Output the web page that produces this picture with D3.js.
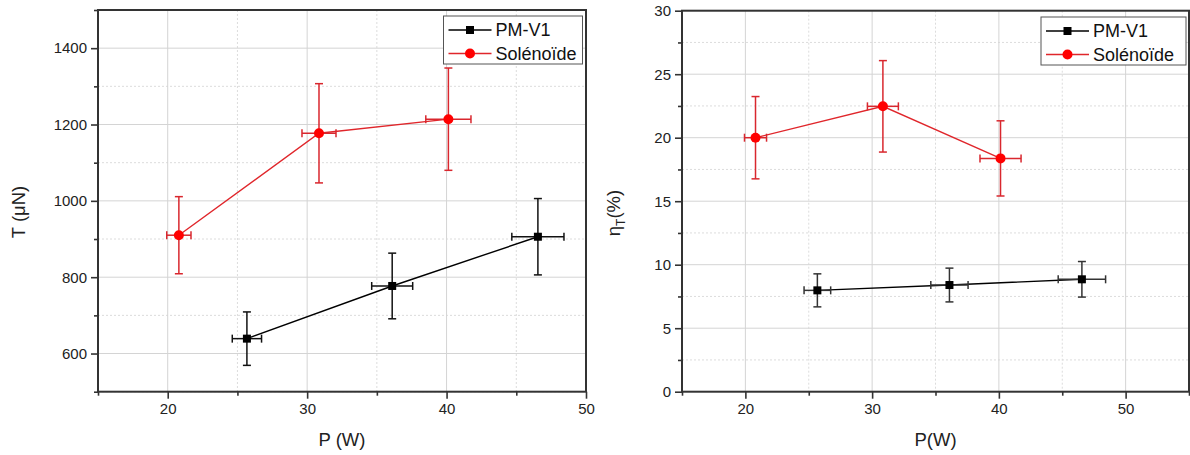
<!DOCTYPE html>
<html><head><meta charset="utf-8">
<script src="https://cdn.jsdelivr.net/npm/d3@7"></script>
<style>
body{margin:0;background:#fff;}
svg{display:block;font-family:"Liberation Sans",Arial,sans-serif;}
</style></head>
<body><svg id="c" width="1190" height="455"></svg>
<script>
// ---- data ----
const seriesNames = ["PM-V1", "Solénoïde"];
const pmP = [25.68, 36.1, 46.55];
const pmPErr = [1.05, 1.47, 1.87];
const pmT = [639, 777, 906];
const pmTErr = [70, 86, 100];
const pmEta = [7.98, 8.40, 8.85];
const pmEtaErr = [1.3, 1.33, 1.4];

const solP = [20.8, 30.85, 40.13];
const solPErr = [0.87, 1.22, 1.62];
const solT = [910, 1177, 1214];
const solTErr = [101, 130, 134];
const solEta = [20.0, 22.47, 18.37];
const solEtaErr = [3.24, 3.6, 2.96];

const leftXTicks = [20, 30, 40, 50];
const leftXMinor = [15, 25, 35, 45];
const leftYTicks = [600, 800, 1000, 1200, 1400];
const leftYMinor = [500, 700, 900, 1100, 1300, 1500];
const rightXTicks = [20, 30, 40, 50];
const rightXMinor = [15, 25, 35, 45, 55];
const rightYTicks = [0, 5, 10, 15, 20, 25, 30];
const rightYMinor = [2.5, 7.5, 12.5, 17.5, 22.5, 27.5];

const svg = d3.select("#c");
const BLACK = "#000", RED = "#ff0000", REDLINE = "#e0262b", AXIS = "#333";

function panel(cfg) {
  const g = svg.append("g");
  const x = d3.scaleLinear().domain(cfg.xDomain).range([cfg.left, cfg.right]);
  const y = d3.scaleLinear().domain(cfg.yDomain).range([cfg.bottom, cfg.top]);

  // grid minor (dotted)
  g.selectAll(".gxm").data(cfg.xMinor).join("line")
    .attr("x1", d => x(d)).attr("x2", d => x(d)).attr("y1", cfg.top).attr("y2", cfg.bottom)
    .attr("stroke", "#dcdcdc").attr("stroke-width", 1).attr("stroke-dasharray", "2,2");
  g.selectAll(".gym").data(cfg.yMinor).join("line")
    .attr("y1", d => y(d)).attr("y2", d => y(d)).attr("x1", cfg.left).attr("x2", cfg.right)
    .attr("stroke", "#dcdcdc").attr("stroke-width", 1).attr("stroke-dasharray", "2,2");
  // grid major
  g.selectAll(".gx").data(cfg.xTicks).join("line")
    .attr("x1", d => x(d)).attr("x2", d => x(d)).attr("y1", cfg.top).attr("y2", cfg.bottom)
    .attr("stroke", "#d4d4d4").attr("stroke-width", 1);
  g.selectAll(".gy").data(cfg.yTicks).join("line")
    .attr("y1", d => y(d)).attr("y2", d => y(d)).attr("x1", cfg.left).attr("x2", cfg.right)
    .attr("stroke", "#d4d4d4").attr("stroke-width", 1);

  // axes
  const xa = g.append("g").attr("transform", `translate(0,${cfg.bottom})`)
    .call(d3.axisBottom(x).tickValues(cfg.xTicks).tickSize(7).tickPadding(5).tickFormat(d3.format("d")));
  const xam = g.append("g").attr("transform", `translate(0,${cfg.bottom})`)
    .call(d3.axisBottom(x).tickValues(cfg.xMinor).tickSize(4).tickFormat(""));
  const ya = g.append("g").attr("transform", `translate(${cfg.left},0)`)
    .call(d3.axisLeft(y).tickValues(cfg.yTicks).tickSize(7).tickPadding(4).tickFormat(d3.format("d")));
  const yam = g.append("g").attr("transform", `translate(${cfg.left},0)`)
    .call(d3.axisLeft(y).tickValues(cfg.yMinor).tickSize(4).tickFormat(""));
  [xa, xam, ya, yam].forEach(a => {
    a.select(".domain").remove();
    a.selectAll("line").attr("stroke", AXIS).attr("stroke-width", 1.6);
    a.selectAll("text").attr("fill", "#222").attr("font-size", 15)
      .attr("font-family", "'Liberation Sans',Arial,sans-serif");
  });
  // frame
  g.append("rect").attr("x", cfg.left).attr("y", cfg.top)
    .attr("width", cfg.right - cfg.left).attr("height", cfg.bottom - cfg.top)
    .attr("fill", "none").attr("stroke", AXIS).attr("stroke-width", 2);

  // series
  const series = [
    {name: seriesNames[0], px: pmP, pe: pmPErr, v: cfg.pmV, ve: cfg.pmVErr, color: BLACK, line: BLACK, err: cfg.pmErrColor, shape: "square"},
    {name: seriesNames[1], px: solP, pe: solPErr, v: cfg.solV, ve: cfg.solVErr, color: RED, line: REDLINE, err: "#d9272e", shape: "circle"}
  ];
  const cap = 4;
  series.forEach(s => {
    const pts = s.px.map((p, i) => ({p, pe: s.pe[i], v: s.v[i], ve: s.ve[i]}));
    g.append("path").datum(pts)
      .attr("d", d3.line().x(d => x(d.p)).y(d => y(d.v)))
      .attr("fill", "none").attr("stroke", s.line).attr("stroke-width", 1.4);
    const eg = g.append("g").attr("stroke", s.err).attr("stroke-width", 1.5).attr("fill", "none");
    pts.forEach(d => {
      // vertical
      eg.append("line").attr("x1", x(d.p)).attr("x2", x(d.p)).attr("y1", y(d.v - d.ve)).attr("y2", y(d.v + d.ve));
      eg.append("line").attr("x1", x(d.p) - cap).attr("x2", x(d.p) + cap).attr("y1", y(d.v - d.ve)).attr("y2", y(d.v - d.ve));
      eg.append("line").attr("x1", x(d.p) - cap).attr("x2", x(d.p) + cap).attr("y1", y(d.v + d.ve)).attr("y2", y(d.v + d.ve));
      // horizontal
      eg.append("line").attr("x1", x(d.p - d.pe)).attr("x2", x(d.p + d.pe)).attr("y1", y(d.v)).attr("y2", y(d.v));
      eg.append("line").attr("x1", x(d.p - d.pe)).attr("x2", x(d.p - d.pe)).attr("y1", y(d.v) - cap).attr("y2", y(d.v) + cap);
      eg.append("line").attr("x1", x(d.p + d.pe)).attr("x2", x(d.p + d.pe)).attr("y1", y(d.v) - cap).attr("y2", y(d.v) + cap);
    });
    if (s.shape === "square") {
      g.selectAll(null).data(pts).join("rect")
        .attr("x", d => x(d.p) - 4).attr("y", d => y(d.v) - 4).attr("width", 8).attr("height", 8)
        .attr("fill", s.color);
    } else {
      g.selectAll(null).data(pts).join("circle")
        .attr("cx", d => x(d.p)).attr("cy", d => y(d.v)).attr("r", 5)
        .attr("fill", s.color);
    }
  });

  // legend
  const L = cfg.legend;
  const lg = g.append("g");
  lg.append("rect").attr("x", L.x).attr("y", L.y).attr("width", L.w).attr("height", L.h)
    .attr("fill", "#fff").attr("stroke", "#555").attr("stroke-width", 1);
  series.forEach((s, i) => {
    const yy = L.y + 14 + i * 23.5;
    lg.append("line").attr("x1", L.x + 5).attr("x2", L.x + 48).attr("y1", yy).attr("y2", yy)
      .attr("stroke", s.line).attr("stroke-width", 1.4);
    if (s.shape === "square") {
      lg.append("rect").attr("x", L.x + 26.5 - 4).attr("y", yy - 4).attr("width", 8).attr("height", 8).attr("fill", s.color);
    } else {
      lg.append("circle").attr("cx", L.x + 26.5).attr("cy", yy).attr("r", 5).attr("fill", s.color);
    }
    lg.append("text").attr("x", L.x + 52).attr("y", yy).attr("dy", "0.35em")
      .attr("font-size", 18).attr("fill", "#111").text(s.name);
  });

  // axis titles
  g.append("text").attr("x", (cfg.left + cfg.right) / 2).attr("y", 440).attr("dy", "0.35em")
    .attr("text-anchor", "middle").attr("font-size", 18.5).attr("fill", "#222").text(cfg.xTitle);
  const yt = g.append("text").attr("transform", `translate(${cfg.yTitleX},${cfg.yTitleY}) rotate(-90)`)
    .attr("text-anchor", "middle").attr("dy", "0.35em").attr("font-size", 18.5).attr("fill", "#222");
  cfg.yTitle(yt);
}

panel({
  left: 98, right: 586, top: 10, bottom: 391.7,
  xDomain: [15, 50], yDomain: [500, 1500],
  xTicks: leftXTicks, xMinor: leftXMinor, yTicks: leftYTicks, yMinor: leftYMinor,
  pmV: pmT, pmVErr: pmTErr, solV: solT, solVErr: solTErr, pmErrColor: "#111",
  legend: {x: 443.5, y: 16, w: 139, h: 48},
  xTitle: "P (W)", yTitleX: 19, yTitleY: 212,
  yTitle: t => t.text("T (μN)")
});
panel({
  left: 682, right: 1189, top: 10.7, bottom: 391.7,
  xDomain: [15, 55], yDomain: [0, 30],
  xTicks: rightXTicks, xMinor: rightXMinor, yTicks: rightYTicks, yMinor: rightYMinor,
  pmV: pmEta, pmVErr: pmEtaErr, solV: solEta, solVErr: solEtaErr, pmErrColor: "#333",
  legend: {x: 1041, y: 17, w: 145, h: 48},
  xTitle: "P(W)", yTitleX: 614, yTitleY: 213,
  yTitle: t => {
    t.append("tspan").text("η");
    t.append("tspan").attr("font-size", 12).attr("dy", "0.35em").text("T");
    t.append("tspan").attr("dy", "-0.25em").text("(%)");
  }
});
</script></body></html>
